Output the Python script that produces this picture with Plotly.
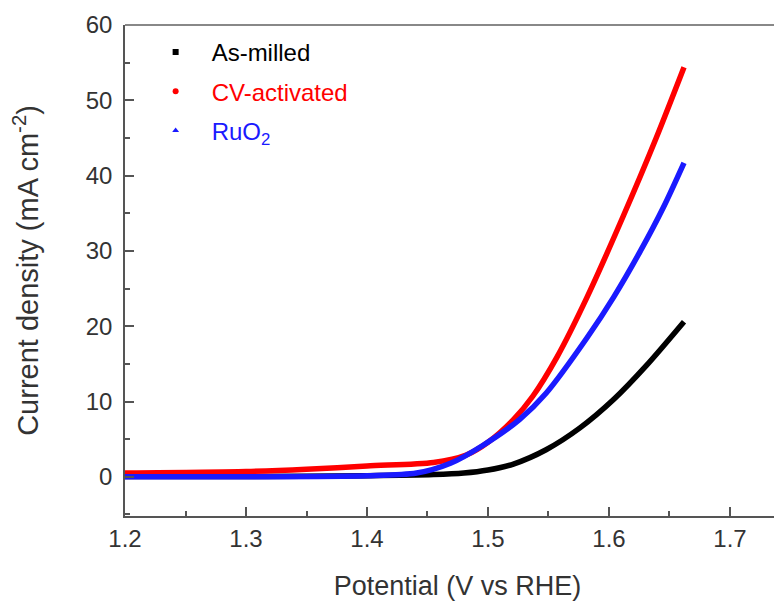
import plotly.graph_objects as go

# Potential (V vs RHE) and current density (mA cm^-2)
v_milled = [1.20, 1.30, 1.40, 1.455, 1.48, 1.50, 1.521, 1.548, 1.576, 1.604, 1.631, 1.662]
j_milled = [0.05, 0.05, 0.15, 0.3, 0.5, 0.9, 1.7, 3.6, 6.5, 10.3, 14.8, 20.6]

v_cv = [1.20, 1.30, 1.35, 1.40, 1.455, 1.482, 1.50, 1.521, 1.537, 1.557, 1.582, 1.612, 1.639, 1.662]
j_cv = [0.5, 0.7, 1.0, 1.45, 1.9, 2.9, 4.6, 7.6, 10.7, 15.9, 23.9, 34.7, 45.0, 54.4]

v_ru = [1.20, 1.30, 1.40, 1.441, 1.469, 1.496, 1.526, 1.548, 1.582, 1.604, 1.626, 1.645, 1.662]
j_ru = [0.0, 0.0, 0.13, 0.5, 1.8, 4.2, 7.6, 11.1, 18.5, 23.9, 30.0, 35.8, 41.7]

names = ["As-milled", "CV-activated", "RuO<sub>2</sub>"]
colors = ["#000000", "#ff0000", "#1a1aff"]
symbols = ["square", "circle", "triangle-up"]

fig = go.Figure()
for v, j, c in [(v_milled, j_milled, colors[0]), (v_cv, j_cv, colors[1]), (v_ru, j_ru, colors[2])]:
    fig.add_trace(go.Scatter(x=v, y=j, mode="lines",
                             line=dict(color=c, width=5.5, shape="spline", smoothing=0.8),
                             showlegend=False, hoverinfo="skip"))

for i in range(3):
    fig.add_trace(go.Scatter(
        x=[None], y=[None], mode="markers",
        marker=dict(color=colors[i], symbol=symbols[i], size=6),
        name=f"<span style='color:{colors[i]}'>{names[i]}</span>",
        legendgroup=f"g{i}",
    ))

axis_common = dict(ticks="inside", ticklen=9, tickwidth=1.5, tickcolor="#555",
                   showline=True, linecolor="#555", linewidth=1.5, showgrid=False,
                   zeroline=False, automargin=False, tickfont=dict(size=24, color="#333"))

fig.update_layout(
    width=782, height=601,
    margin=dict(l=117, r=0, t=17, b=93),
    paper_bgcolor="white", plot_bgcolor="white",
    font=dict(family="Liberation Sans, Arial, sans-serif", color="#333333"),
    showlegend=True,
    legend=dict(x=0.022, y=0.99, xanchor="left", yanchor="top", bgcolor="rgba(0,0,0,0)",
                font=dict(size=24), tracegroupgap=5, itemwidth=62),
    xaxis=dict(range=[1.2, 1.7496], tickvals=[1.2, 1.3, 1.4, 1.5, 1.6, 1.7],
               ticktext=["1.2", "1.3", "1.4", "1.5", "1.6", "1.7"],
               minor=dict(dtick=0.05, tick0=1.2, ticks="inside", ticklen=5, tickwidth=1.5, tickcolor="#555"),
               title=dict(text="Potential (V vs RHE)", font=dict(size=27, color="#333"), standoff=26),
               **axis_common),
    yaxis=dict(range=[-5.2, 60], tickvals=[0, 10, 20, 30, 40, 50, 60], ticklabelstandoff=6,
               minor=dict(dtick=5, tick0=0, ticks="inside", ticklen=5, tickwidth=1.5, tickcolor="#555"),
               title=dict(text="Current density (mA cm<sup>-2</sup>)", font=dict(size=29, color="#333"), standoff=46),
               **axis_common),
    shapes=[dict(type="line", xref="paper", yref="paper", x0=0, x1=1, y0=1, y1=1,
                 line=dict(color="#888888", width=2))],
)

fig.write_html("out.html")
